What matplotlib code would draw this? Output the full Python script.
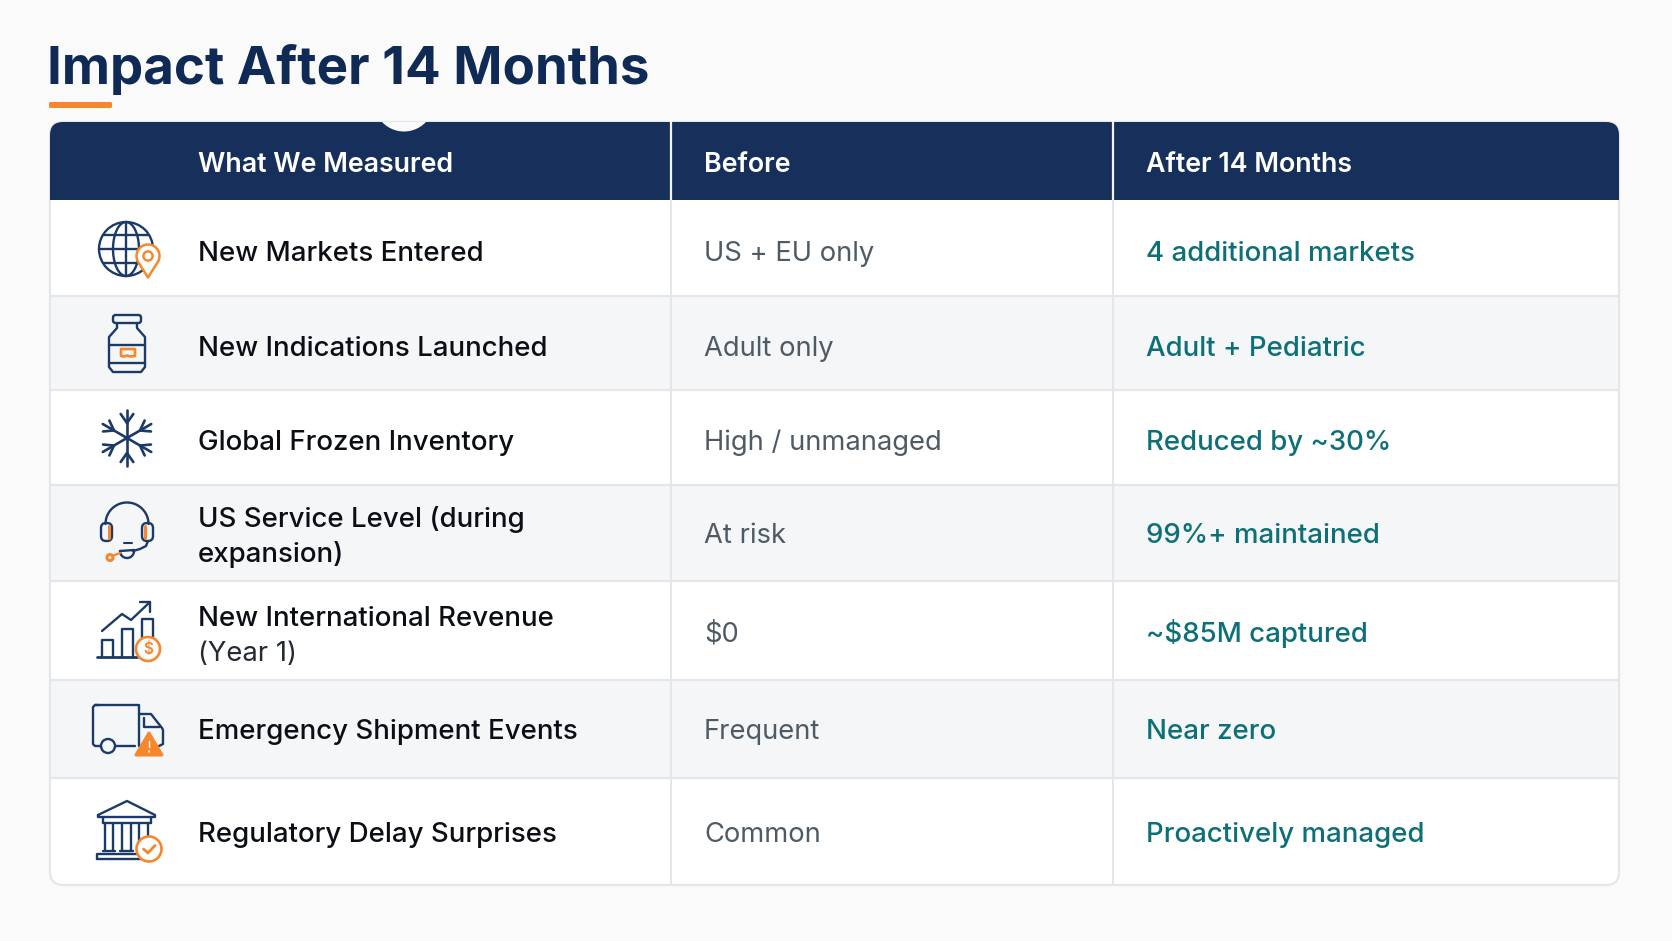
import numpy as np
import matplotlib
matplotlib.use("Agg")
import matplotlib.pyplot as plt
from matplotlib.patches import Circle, FancyBboxPatch, Polygon, Rectangle

# table content
title = "Impact After 14 Months"
headers = ["What We Measured", "Before", "After 14 Months"]
metrics = [
    ["New Markets Entered"],
    ["New Indications Launched"],
    ["Global Frozen Inventory"],
    ["US Service Level (during", "expansion)"],
    ["New International Revenue"],
    ["Emergency Shipment Events"],
    ["Regulatory Delay Surprises"],
]
metric_notes = ["", "", "", "", "(Year 1)", "", ""]
before = ["US + EU only", "Adult only", "High / unmanaged", "At risk", "$0", "Frequent", "Common"]
after = ["4 additional markets", "Adult + Pediatric", "Reduced by ~30%", "99%+ maintained",
         "~$85M captured", "Near zero", "Proactively managed"]

NAVY = "#16305b"
TITLE = "#102a56"
ICON = "#1b3a68"
ORANGE = "#f6872d"
TEAL = "#0d6f77"
GREY = "#4f5b64"
INK = "#0b0f15"
LINE = "#e4e6ea"
BG = "#fafafa"
ALT = "#f4f6f8"

# layout in pixels
LEFT, RIGHT = 50, 1619
TOP, HEAD_BOTTOM, BOTTOM = 122, 200, 885
ROW_EDGES = [200, 296, 390, 485, 581, 680, 778, 885]
BASELINES = [261, 356, 449.5, 543, 641.5, 739, 842]
FIRST_LINE = {3: 527, 4: 625.5}
SECOND_LINE = {3: 562, 4: 661}
COL_X = [671, 1113]
TEXT_X = [198, 704, 1146]

plt.rcParams["font.family"] = ["Inter", "DejaVu Sans"]

fig = plt.figure(figsize=(16.72, 9.41), dpi=100, facecolor=BG)
ax = fig.add_axes([0, 0, 1, 1])
ax.set_xlim(0, 1672)
ax.set_ylim(941, 0)
ax.axis("off")


def arc(cx, cy, r, a0=0, a1=360, ry=None):
    t = np.radians(np.linspace(a0, a1, 60))
    return cx + r * np.cos(t), cy - (ry or r) * np.sin(t)


def stroke(xs, ys, color=ICON, lw=1.7, z=5):
    ax.plot(xs, ys, color=color, lw=lw, solid_capstyle="round", solid_joinstyle="round", zorder=z)


def box(x0, y0, x1, y1, color=ICON, lw=1.7, radius=2, face="none", z=5):
    ax.add_patch(FancyBboxPatch((x0, y0), x1 - x0, y1 - y0, boxstyle=f"round,pad=0,rounding_size={radius}",
                                fc=face, ec=color, lw=lw, zorder=z))


def ring(cx, cy, r, color=ICON, lw=1.7, face="none", z=5):
    ax.add_patch(Circle((cx, cy), r, fc=face, ec=color, lw=lw, zorder=z))


def globe_icon():
    cx, cy, r = 126, 249, 27
    ring(cx, cy, r)
    stroke([cx, cx], [cy - r, cy + r])
    stroke(*arc(cx, cy, 13, 0, 360, ry=r))
    stroke([cx - r, cx + r], [cy, cy])
    for dy in (-14, 14):
        half = np.sqrt(r ** 2 - dy ** 2)
        stroke([cx - half, cx + half], [cy + dy, cy + dy])
    # pin
    px, py = 148, 256
    xs, ys = arc(px, py, 11.5, -35, 215)
    ax.fill(np.r_[xs, px], np.r_[ys, py + 21.5], fc="white", ec=ORANGE, lw=1.8, zorder=6, joinstyle="round")
    ring(px, py, 4.6, ORANGE, 1.7, z=7)


def jar_icon():
    box(113, 315, 141, 323, radius=2.5)
    stroke([117, 117, 109, 109, 113, 141, 145, 145, 137, 137],
           [323, 328, 337, 367, 372, 372, 367, 337, 328, 323])
    stroke([109, 145], [345, 345])
    stroke([109, 145], [363, 363])
    stroke([134, 121, 121, 124, 127, 130, 135, 135], [349, 349, 356, 356.5, 355.5, 356.5, 356, 349], ORANGE, 1.9)


def snow_icon():
    cx, cy = 127, 438
    for ang in range(30, 360, 60):
        a = np.radians(ang + 60)
        ux, uy = np.cos(a), -np.sin(a)
        stroke([cx, cx + ux * 28], [cy, cy + uy * 28], lw=1.9)
        for side in (-35, 35):
            b = a + np.radians(side)
            bx, by = np.cos(b), -np.sin(b)
            sx, sy = cx + ux * 15, cy + uy * 15
            stroke([sx, sx + bx * 11], [sy, sy + by * 11], lw=1.9)


def headset_icon():
    stroke(*arc(127, 524, 21.5, 0, 180))
    box(101, 523, 112, 541, radius=5)
    box(142, 523, 153, 541, radius=5)
    stroke([109, 109], [526, 538], ORANGE, 2.2)
    stroke([145, 145], [526, 538], ORANGE, 2.2)
    stroke([148, 146, 140, 133], [541, 546, 549, 551])
    stroke([124, 132], [543, 543], lw=1.5)
    stroke(*arc(127, 551, 7, 180, 360, ry=7))
    stroke([120, 134], [551, 550])
    stroke([120, 112], [553, 556], ORANGE, 1.6)
    ring(110, 557.5, 3, ORANGE, 2.2)


def chart_icon():
    stroke([97, 137], [657, 657], lw=2)
    stroke([102, 102, 113, 113], [657, 640, 640, 657])
    stroke([122, 122, 133, 133], [657, 629, 629, 657])
    stroke([142, 142, 153, 153], [650, 619, 619, 640])
    stroke([102, 122, 131, 150], [631, 614, 620, 602])
    stroke([140, 150, 150], [602, 602, 612])
    ring(148, 649, 12, ORANGE, 1.9, face="#fdfdfd", z=6)
    ax.text(148, 649.5, "$", color=ORANGE, fontsize=11, fontweight="semibold", ha="center", va="center", zorder=7)


def truck_icon():
    stroke([100, 95, 93, 93, 95, 99], [746, 746, 744, 707, 705, 705])
    stroke([95, 139, 139], [705, 705, 746])
    stroke([116, 135], [746, 746])
    stroke([139, 151, 162, 163, 163, 159], [714, 714, 728, 730, 744, 746])
    stroke([144, 144, 160], [718, 727, 727])
    ring(108, 746, 7, face=ALT)
    ax.add_patch(Polygon([(149, 733), (136, 755), (162, 755)], closed=True, fc=ORANGE, ec=ORANGE, lw=2.2,
                         joinstyle="round", zorder=6))
    stroke([149, 149], [741, 747], "white", 1.0, z=7)
    stroke([149, 149], [751, 751.5], "white", 1.2, z=7)


def bank_icon():
    stroke([98, 127, 155, 155, 98, 98], [815, 801, 815, 817, 817, 815])
    stroke([103, 151], [823, 823])
    stroke([103, 103], [817, 823])
    stroke([151, 151], [817, 823])
    for x0, x1 in [(105, 113), (122, 131), (139, 148)]:
        stroke([x0, x0], [823, 851])
        stroke([x1, x1], [823, 851])
        stroke([x0 - 2, x1 + 2], [851, 851])
    stroke([97, 142, 142, 97, 97], [859, 859, 854, 854, 859])
    ring(149, 849, 12.5, ORANGE, 1.9, face="white", z=6)
    stroke([143.5, 148, 155], [849, 853, 845.5], ORANGE, 2, z=7)


# white card with a thin border, the header sits on top of it
card = FancyBboxPatch((LEFT, TOP), RIGHT - LEFT, BOTTOM - TOP, boxstyle="round,pad=0,rounding_size=13",
                      fc="white", ec=LINE, lw=1.6, zorder=1)
ax.add_patch(card)

for i in range(len(metrics)):
    y0, y1 = ROW_EDGES[i], ROW_EDGES[i + 1]
    if i % 2 == 1:
        ax.add_patch(Rectangle((LEFT + 1, y0), RIGHT - LEFT - 2, y1 - y0, fc=ALT, ec="none", zorder=2))
    if i > 0:
        ax.plot([LEFT + 1, RIGHT - 1], [y0, y0], color=LINE, lw=1.6, zorder=3, solid_capstyle="butt")

for x in COL_X:
    ax.plot([x, x], [HEAD_BOTTOM, BOTTOM], color=LINE, lw=1.4, zorder=3, solid_capstyle="butt")

head = Rectangle((LEFT - 1, TOP - 1), RIGHT - LEFT + 2, HEAD_BOTTOM - TOP + 1, fc=NAVY, ec="none", zorder=4)
ax.add_patch(head)
head.set_clip_path(FancyBboxPatch((LEFT, TOP), RIGHT - LEFT, BOTTOM - TOP, boxstyle="round,pad=0,rounding_size=13",
                                  transform=ax.transData))
for x in COL_X:
    ax.plot([x, x], [TOP - 1, HEAD_BOTTOM], color="#f3f4f6", lw=1.6, zorder=4.5, solid_capstyle="butt")

# notch in the top of the header
nx, ny = arc(404, 101.5, 30, 223, 317)
ax.fill(nx, ny, color=BG, ec="none", zorder=5)

# title and accent bar
ax.text(47, 84, title, color=TITLE, fontsize=38, fontweight="bold", va="baseline", ha="left", zorder=6)
ax.add_patch(FancyBboxPatch((49, 102), 63, 6, boxstyle="round,pad=0,rounding_size=1.5", fc=ORANGE, ec="none", zorder=5))

for x, label in zip(TEXT_X, headers):
    ax.text(x, 172, label, color="white", fontsize=19.3, fontweight="semibold", va="baseline", ha="left", zorder=6)

for i in range(len(metrics)):
    lines = metrics[i]
    if metric_notes[i]:
        ax.text(TEXT_X[0], FIRST_LINE[i], lines[0], color=INK, fontsize=19.9, fontweight="medium", va="baseline", zorder=6)
        ax.text(TEXT_X[0], SECOND_LINE[i], metric_notes[i], color="#252b33", fontsize=19.7, va="baseline", zorder=6)
    elif len(lines) == 2:
        ax.text(TEXT_X[0], FIRST_LINE[i], lines[0], color=INK, fontsize=19.9, fontweight="medium", va="baseline", zorder=6)
        ax.text(TEXT_X[0], SECOND_LINE[i], lines[1], color=INK, fontsize=19.9, fontweight="medium", va="baseline", zorder=6)
    else:
        ax.text(TEXT_X[0], BASELINES[i], lines[0], color=INK, fontsize=19.9, fontweight="medium", va="baseline", zorder=6)
    ax.text(TEXT_X[1], BASELINES[i], before[i], color=GREY, fontsize=19.7, va="baseline", zorder=6)
    ax.text(TEXT_X[2], BASELINES[i], after[i], color=TEAL, fontsize=19.9, fontweight="medium", va="baseline", zorder=6)

globe_icon()
jar_icon()
snow_icon()
headset_icon()
chart_icon()
truck_icon()
bank_icon()

fig.savefig("out.png", dpi=100, facecolor=BG)
